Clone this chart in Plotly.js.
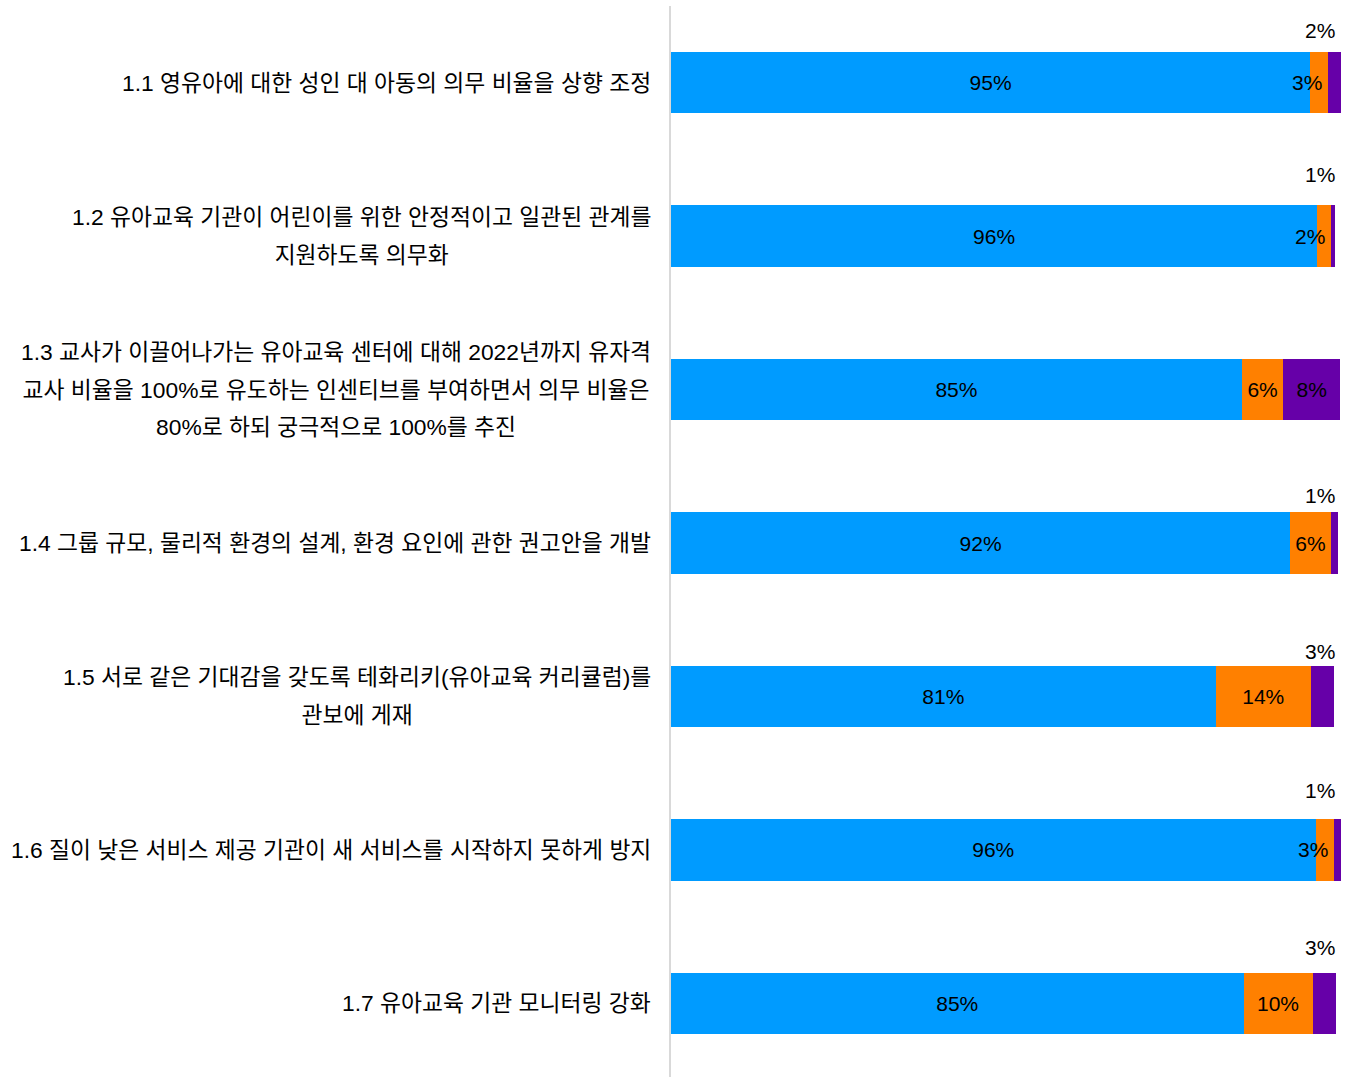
<!DOCTYPE html>
<html>
<head>
<meta charset="utf-8">
<script src="https://cdn.plot.ly/plotly-3.0.1.min.js"></script>
<style>html,body{margin:0;padding:0;background:#fff;overflow:hidden}</style>
</head>
<body>
<div id="chart" style="width:1351px;height:1077px"></div>
<script>
// ---- data ----
const categories = ["1.1", "1.2", "1.3", "1.4", "1.5", "1.6", "1.7"];
const categoryLabels = [
  "1.1 영유아에 대한 성인 대 아동의 의무 비율을 상향 조정",
  "1.2 유아교육 기관이 어린이를 위한 안정적이고 일관된 관계를<br>지원하도록 의무화",
  "1.3 교사가 이끌어나가는 유아교육 센터에 대해 2022년까지 유자격<br>교사 비율을 100%로 유도하는 인센티브를 부여하면서 의무 비율은<br>80%로 하되 궁극적으로 100%를 추진",
  "1.4 그룹 규모, 물리적 환경의 설계, 환경 요인에 관한 권고안을 개발",
  "1.5 서로 같은 기대감을 갖도록 테화리키(유아교육 커리큘럼)를<br>관보에 게재",
  "1.6 질이 낮은 서비스 제공 기관이 새 서비스를 시작하지 못하게 방지",
  "1.7 유아교육 기관 모니터링 강화"
];
const blueValues   = [95.4, 96.45, 85.2, 92.4, 81.3, 96.2, 85.45];
const orangeValues = [2.7, 2.1, 6.2, 6.1, 14.2, 2.8, 10.3];
const purpleValues = [1.9, 0.6, 8.45, 1.0, 3.4, 1.0, 3.49];

// ---- styles ----
const COLORS = {blue: "#009BFF", orange: "#FF8000", purple: "#6600A8"};
const FONT = "'Liberation Sans', Arial, 'Noto Sans CJK KR', sans-serif";
const VALUE_SIZE = 21;
const LABEL_SIZE = 22.8;
const SMALL = 5; // segments below this get their label outside
const purpleLabelShift = [52, 62, 0, 48, 45, 59, 56];

const pct = v => Math.round(v) + "%";

function barTrace(name, values, color, showAll) {
  return {
    type: "bar", orientation: "h", name: name,
    y: categories, x: values,
    marker: {color: color, line: {width: 0}},
    text: values.map(v => (showAll || v >= SMALL) ? pct(v) : ""),
    textposition: "inside", insidetextanchor: "middle",
    textangle: 0, constraintext: "none",
    textfont: {family: FONT, size: VALUE_SIZE, color: "#000"},
    hoverinfo: "x+y", showlegend: false
  };
}

const traces = [
  barTrace("blue", blueValues, COLORS.blue, true),
  barTrace("orange", orangeValues, COLORS.orange, false),
  barTrace("purple", purpleValues, COLORS.purple, false)
];

const annotations = [];
categories.forEach((c, i) => {
  annotations.push({
    xref: "paper", x: 0, xanchor: "right", xshift: -18,
    yref: "y", y: i, yanchor: "middle",
    text: categoryLabels[i].split("<br>").map(l => '<span style="font-size:' + LABEL_SIZE + 'px">' + l + '</span>').join("<br>"),
    align: "center", showarrow: false,
    font: {family: FONT, size: 29, color: "#000"}
  });
  if (orangeValues[i] < SMALL) {
    annotations.push({
      xref: "x", x: blueValues[i] + orangeValues[i], xanchor: "right", xshift: -4,
      yref: "y", y: i, yanchor: "middle",
      text: pct(orangeValues[i]), showarrow: false,
      font: {family: FONT, size: VALUE_SIZE, color: "#000"}
    });
  }
  if (purpleValues[i] < SMALL) {
    annotations.push({
      xref: "x", x: 100, xanchor: "right", xshift: -4,
      yref: "y", y: i, yanchor: "middle", yshift: purpleLabelShift[i],
      text: pct(purpleValues[i]), showarrow: false,
      font: {family: FONT, size: VALUE_SIZE, color: "#000"}
    });
  }
});

const layout = {
  width: 1351, height: 1080,
  margin: {l: 671, r: 10, t: 6, b: 0, pad: 0},
  paper_bgcolor: "#fff", plot_bgcolor: "#fff",
  barmode: "stack", bargap: 0.6,
  xaxis: {range: [0, 100], visible: false, fixedrange: true},
  yaxis: {
    type: "category", autorange: "reversed",
    showticklabels: false, ticks: "", showgrid: false, zeroline: false,
    showline: true, linecolor: "#d9d9d9", linewidth: 2, fixedrange: true
  },
  annotations: annotations,
  font: {family: FONT, color: "#000"}
};

Plotly.newPlot("chart", traces, layout, {displayModeBar: false, staticPlot: true});
</script>
</body>
</html>
